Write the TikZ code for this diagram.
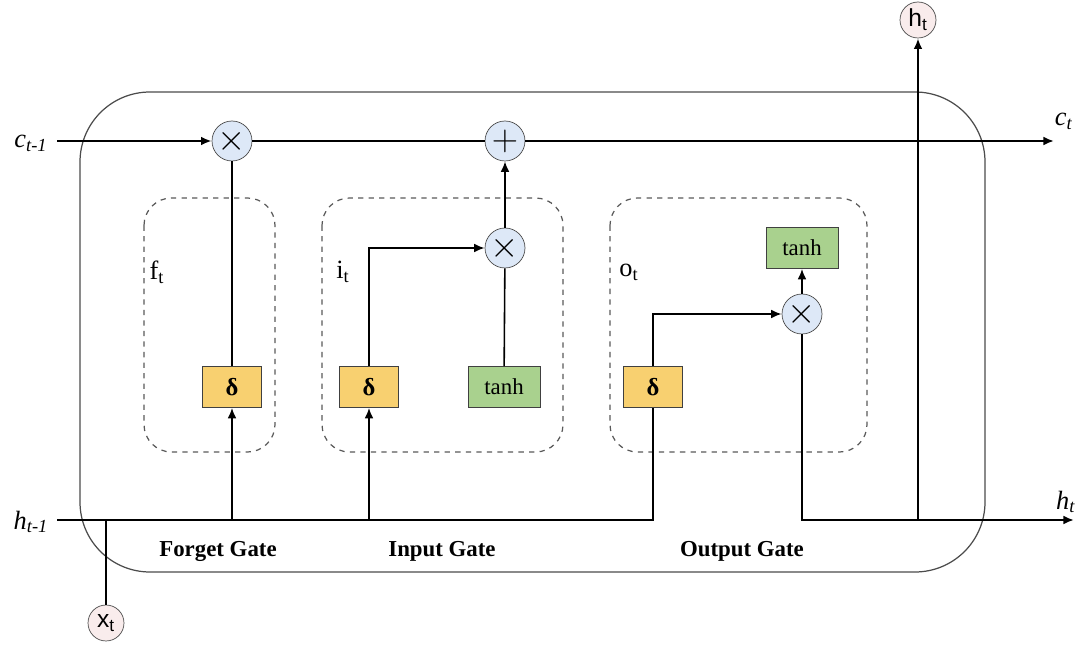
\documentclass[tikz,border=0pt]{standalone}
\usepackage{fontspec}
\setmainfont{Liberation Serif}
\newfontfamily\circfont{Liberation Sans}
\usetikzlibrary{arrows.meta}
\usetikzlibrary{positioning}

\definecolor{opblue}{HTML}{DDE8F7}
\definecolor{sigorange}{HTML}{F8D070}
\definecolor{tanhgreen}{HTML}{A9D18E}
\definecolor{iopink}{HTML}{F9ECEC}

\begin{document}
\begin{tikzpicture}[x=0.02cm, y=-0.02cm,
    >={Latex[length=6pt,width=5pt]},
    op/.style={circle, draw=black!70, fill=opblue, minimum size=0.8cm, inner sep=0pt, font=\fontsize{20}{20}\selectfont},
    sig/.style={draw=black!75, fill=sigorange, minimum width=1.18cm, minimum height=0.82cm, inner sep=0pt, font=\bfseries\fontsize{14}{14}\selectfont},
    act/.style={draw=black!75, fill=tanhgreen, minimum width=1.44cm, minimum height=0.82cm, inner sep=0pt, font=\fontsize{13}{13}\selectfont},
    io/.style={circle, draw=black!70, fill=iopink, minimum size=0.72cm, inner sep=0pt, font=\circfont\fontsize{14}{14}\selectfont},
    gatebox/.style={draw=black!65, dashed, line width=0.7pt, rounded corners=0.55cm},
    gatename/.style={font=\bfseries\fontsize{13}{15}\selectfont},
    lbl/.style={font=\fontsize{15}{17}\selectfont},
    wire/.style={line width=1.3pt},
    inner/.style={line width=0.9pt}]
  \useasboundingbox (0,0) rectangle (1083,645);

  % cell and gates
  \draw[black!70, line width=0.7pt, rounded corners=1.4cm] (80,92) rectangle (985,572);
  \draw[gatebox] (144,198) rectangle (275,452);
  \draw[gatebox] (322,198) rectangle (563,452);
  \draw[gatebox] (610,198) rectangle (867,452);

  \node[op] (fmul) at (232,141) {$\times$};
  \node[op] (cadd) at (505,141) {$+$};
  \node[op] (imul) at (505,248) {$\times$};
  \node[op] (omul) at (802,314) {$\times$};

  \node[sig] (fsig) at (232,387) {δ};
  \node[sig] (isig) at (369,387) {δ};
  \node[act] (itanh) at (504,387) {tanh};
  \node[sig] (osig) at (653,387) {δ};
  \node[act] (otanh) at (802,248) {tanh};

  \node[io] (ht) at (918,20) {h\textsubscript{t}};
  \node[io] (xt) at (106,623) {x\textsubscript{t}};

  \node[lbl] (cprev) at (31,143) {\textit{c}\textsubscript{\textit{t-1}}};
  \node[lbl] (cnext) at (1064,121) {\textit{c}\textsubscript{\textit{t}}};
  \node[lbl] (hprev) at (31,522) {\textit{h}\textsubscript{\textit{t-1}}};
  \node[lbl] (hnext) at (1066,502) {\textit{h}\textsubscript{\textit{t}}};

  \node[lbl] (ft) at (157,272) {f\textsubscript{t}};
  \node[lbl] (it) at (343,272) {i\textsubscript{t}};
  \node[lbl] (ot) at (629,272) {o\textsubscript{t}};

  \node[gatename] (fgate) at (218,551) {Forget Gate};
  \node[gatename] (igate) at (442,551) {Input Gate};
  \node[gatename] (ogate) at (742,551) {Output Gate};

  \coordinate (c0) at (57,141);
  \coordinate (c1) at (1054,141);
  \coordinate (h0) at (57,520);
  \coordinate (h1) at (1074,520);

  % cell state
  \draw[wire,->] (c0) -- (fmul);
  \draw[wire] (fmul) -- (cadd);
  \draw[wire,->] (cadd) -- (c1);

  % hidden state in
  \draw[wire] (h0) -| (osig.south);
  \draw[wire] (xt) -- (xt |- h0);
  \draw[inner,->] (fsig |- h0) -- (fsig);
  \draw[inner,->] (isig |- h0) -- (isig);

  % gates
  \draw[inner] (fsig) -- (fmul);
  \draw[inner,->] (isig.north) |- (imul);
  \draw[inner] (itanh) -- (imul);
  \draw[inner,->] (imul) -- (cadd);
  \draw[inner,->] (osig.north) |- (omul);
  \draw[inner,->] (omul) -- (otanh);

  % hidden state out
  \draw[wire,->] (omul) |- (h1);
  \draw[wire,->] (ht |- h1) -- (ht);
\end{tikzpicture}
\end{document}
